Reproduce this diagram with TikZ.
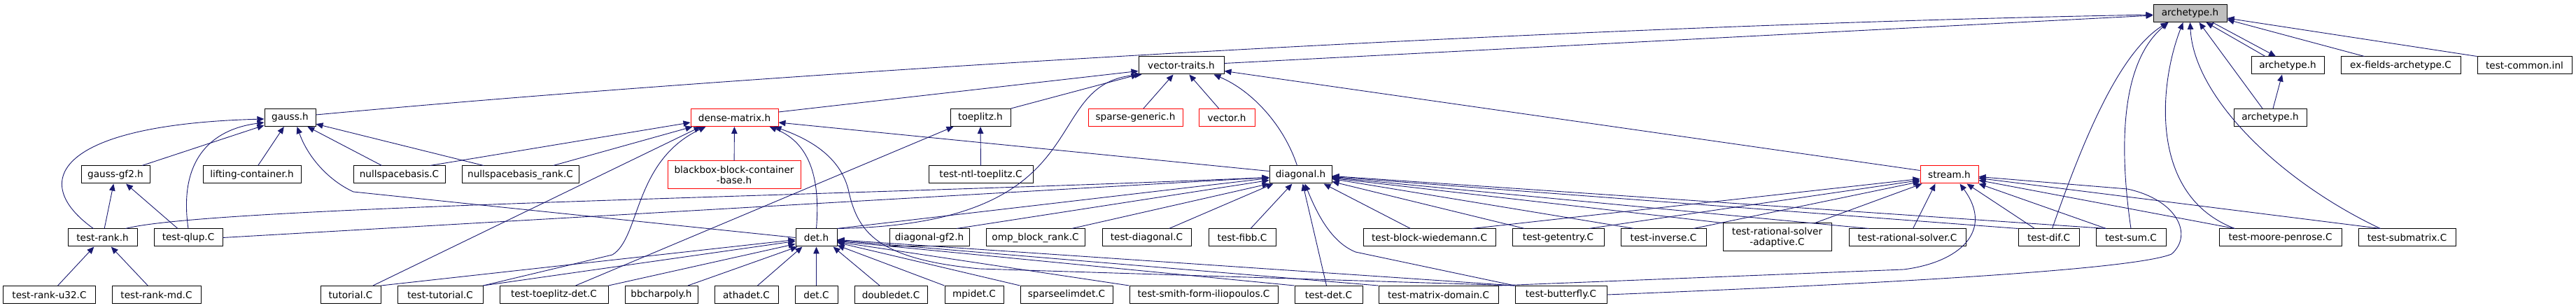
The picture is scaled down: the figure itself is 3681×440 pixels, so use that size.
\documentclass[tikz,border=0pt]{standalone}
\usepackage{fontspec}
\setmainfont{DejaVu Sans}
\usetikzlibrary{arrows.meta,calc}
\definecolor{edgec}{HTML}{191970}
\definecolor{rootfill}{HTML}{BFBFBF}
\tikzset{
  box/.style={draw=black, line width=1bp, fill=white, rectangle, inner sep=0pt,
    minimum height=25bp, font=\fontsize{13.65}{15}\selectfont, align=center},
  redbox/.style={box, draw=red},
  rootbox/.style={box, fill=rootfill},
  edge/.style={draw=edgec, line width=0.9bp, -{Triangle[length=10bp,width=8.5bp]}},
}
\begin{document}
\begin{tikzpicture}[x=1bp,y=-1bp]
\useasboundingbox (0,0) rectangle (3681,440);
% row 0
\node[rootbox, minimum width=105bp] (arch0) at (3129.5,19) {archetype.h};
% row 1
\node[box, minimum width=122bp] (vtraits) at (1688,93.5) {vector-traits.h};
\node[box, minimum width=104bp] (arch1) at (3269,93.5) {archetype.h};
\node[box, minimum width=171bp] (exfields) at (3430.5,93.5) {ex-fields-archetype.C};
\node[box, minimum width=135bp] (tcommon) at (3607.5,93.5) {test-common.inl};
% row 2
\node[box, minimum width=73bp] (gauss) at (414.5,168) {gauss.h};
\node[redbox, minimum width=125bp] (dense) at (1049.5,168) {dense-matrix.h};
\node[box, minimum width=86bp] (toeplitz) at (1401,168) {toeplitz.h};
\node[redbox, minimum width=135bp] (sparsegen) at (1622.5,168) {sparse-generic.h};
\node[redbox, minimum width=80bp] (vector) at (1753,168) {vector.h};
\node[box, minimum width=104bp] (arch2) at (3244,168) {archetype.h};
% row 3
\node[box, minimum width=98bp] (gaussgf2) at (165,249.5) {gauss-gf2.h};
\node[box, minimum width=140bp] (lifting) at (360,249.5) {lifting-container.h};
\node[box, minimum width=131bp] (nsb) at (570.5,249.5) {nullspacebasis.C};
\node[box, minimum width=167bp] (nsbr) at (743.5,249.5) {nullspacebasis\_rank.C};
\node[redbox, minimum width=190bp, minimum height=40bp] (bbcb) at (1049,250) {blackbox-block-container\\-base.h};
\node[box, minimum width=149bp] (ntltoep) at (1401.5,249.5) {test-ntl-toeplitz.C};
\node[box, minimum width=89bp] (diagonal) at (1858.5,249.5) {diagonal.h};
\node[redbox, minimum width=83bp] (stream) at (2785.5,249.5) {stream.h};
% row 4
\node[box, minimum width=99bp] (testrankh) at (146.5,339.5) {test-rank.h};
\node[box, minimum width=98bp] (qlup) at (269,339.5) {test-qlup.C};
\node[box, minimum width=59bp] (deth) at (1166.5,339.5) {det.h};
\node[box, minimum width=114bp] (diaggf2) at (1328,339.5) {diagonal-gf2.h};
\node[box, minimum width=141bp] (omp) at (1479.5,339.5) {omp\_block\_rank.C};
\node[box, minimum width=127bp] (testdiag) at (1638.5,339.5) {test-diagonal.C};
\node[box, minimum width=96bp] (fibb) at (1775,339.5) {test-fibb.C};
\node[box, minimum width=189bp] (bw) at (2042.5,339.5) {test-block-wiedemann.C};
\node[box, minimum width=131bp] (getentry) at (2226.5,339.5) {test-getentry.C};
\node[box, minimum width=122bp] (inverse) at (2377,339.5) {test-inverse.C};
\node[box, minimum width=155bp, minimum height=40bp] (rsa) at (2539.5,339) {test-rational-solver\\-adaptive.C};
\node[box, minimum width=167bp] (rs) at (2725.5,339.5) {test-rational-solver.C};
\node[box, minimum width=87bp] (dif) at (2927.5,339.5) {test-dif.C};
\node[box, minimum width=100bp] (sum) at (3045,339.5) {test-sum.C};
\node[box, minimum width=175bp] (mp) at (3258.5,339.5) {test-moore-penrose.C};
\node[box, minimum width=139bp] (submatrix) at (3439.5,339.5) {test-submatrix.C};
% row 5
\node[box, minimum width=131bp] (u32) at (70.5,421) {test-rank-u32.C};
\node[box, minimum width=127bp] (md) at (223.5,421) {test-rank-md.C};
\node[box, minimum width=86bp] (tutorial) at (501,421) {tutorial.C};
\node[box, minimum width=122bp] (ttut) at (629,421) {test-tutorial.C};
\node[box, minimum width=155bp] (ttdet) at (791.5,421) {test-toeplitz-det.C};
\node[box, minimum width=104bp] (bbcharpoly) at (945,421) {bbcharpoly.h};
\node[box, minimum width=91bp] (athadet) at (1066.5,421) {athadet.C};
\node[box, minimum width=61bp] (detC) at (1166.5,421) {det.C};
\node[box, minimum width=104bp] (doubledet) at (1273,421) {doubledet.C};
\node[box, minimum width=84bp] (mpidet) at (1392,421) {mpidet.C};
\node[box, minimum width=132bp] (sparseelim) at (1524,421) {sparseelimdet.C};
\node[box, minimum width=212bp] (smith) at (1720,421) {test-smith-form-iliopoulos.C};
\node[box, minimum width=97bp] (testdet) at (1898.5,421) {test-det.C};
\node[box, minimum width=171bp] (tmd) at (2055.5,421) {test-matrix-domain.C};
\node[box, minimum width=131bp] (butterfly) at (2230.5,421) {test-butterfly.C};

% ---- edges into archetype.h (root)
\draw[edge] ($(gauss.east)+(0,-4)$) .. controls (1200,95) and (2300,35) .. ($(arch0.west)+(0,2)$);
\draw[edge] ($(vtraits.east)+(0,-3)$) -- ($(arch0.west)+(0,3)$);
\draw[edge] ($(dif.north)+(5,0)$) .. controls (2980,190) and (3030,75) .. ($(arch0.south)+(-32,0)$);
\draw[edge] (sum.north) .. controls (3028,210) and (3030,90) .. ($(arch0.south)+(-31,0)$);
\draw[edge] ($(mp.north)+(-65,0)$) .. controls (3070,280) and (3085,120) .. ($(arch0.south)+(-10,0)$);
\draw[edge] ($(submatrix.north)+(-38,0)$) .. controls (3260,260) and (3135,140) .. (arch0.south);
\draw[edge] ($(arch2.north)+(-11,0)$) -- ($(arch0.south)+(13,0)$);
\draw[edge] ($(arch1.north)+(-32,0)$) -- ($(arch0.south)+(23,0)$);
\draw[edge] ($(arch0.south)+(32,0)$) -- ($(arch1.north)+(-17,0)$);
\draw[edge] ($(exfields.north)+(-52,0)$) -- ($(arch0.east)+(0,9)$);
\draw[edge] ($(tcommon.north)+(-68,0)$) -- ($(arch0.east)+(0,7)$);
\draw[edge] ($(arch2.north)+(4,0)$) -- ($(arch1.south)+(-8,0)$);

% ---- edges into vector-traits.h
\draw[edge] ($(dense.east)+(0,-8)$) -- ($(vtraits.west)+(0,8)$);
\draw[edge] (toeplitz.north east) -- (vtraits.south west);
\draw[edge] (deth.north east) .. controls (1580,320) and (1480,120) .. ($(vtraits.south west)+(5,0)$);
\draw[edge] (sparsegen) -- (vtraits);
\draw[edge] (vector) -- (vtraits);
\draw[edge] ($(diagonal.north)+(-5,0)$) .. controls (1835,180) and (1790,130) .. ($(vtraits.south east)+(-15,0)$);
\draw[edge] ($(stream.west)+(0,-6)$) -- ($(vtraits.east)+(0,8)$);

% ---- edges into gauss.h
\draw[edge] ($(testrankh.north)+(-13,0)$) .. controls (40,260) and (80,178) .. ($(gauss.west)+(0,2)$);
\draw[edge] ($(gaussgf2.north)+(38,0)$) -- ($(gauss.west)+(0,11)$);
\draw[edge] (qlup.north) .. controls (255,230) and (300,185) .. ($(gauss.west)+(0,7)$);
\draw[edge] (lifting) -- (gauss);
\draw[edge] (nsb) -- (gauss);
\draw[edge] (nsbr) -- (gauss);
\draw[edge] (deth.west) -- (505,274) .. controls (470,258) and (440,225) .. ($(gauss.south)+(10,0)$);

% ---- edges into dense-matrix.h
\draw[edge] ($(nsb.north)+(44,0)$) -- ($(dense.west)+(0,7)$);
\draw[edge] ($(nsbr.north)+(47,0)$) -- ($(dense.south west)+(3,0)$);
\draw[edge] ($(tutorial.north)+(32,0)$) -- ($(dense.south west)+(15,0)$);
\draw[edge] (ttut.north east) -- (875,364) .. controls (915,340) and (905,230) .. ($(dense.south west)+(22,0)$);
\draw[edge] (bbcb) -- (dense);
\draw[edge] (deth.north) .. controls (1172,260) and (1160,205) .. ($(dense.south)+(50,0)$);
\draw[edge] ($(diagonal.west)+(0,-5)$) -- ($(dense.east)+(0,7)$);
\draw[edge] (butterfly.north west) -- (1400,384) .. controls (1250,370) and (1225,330) .. (1212,270) .. controls (1200,225) and (1160,200) .. ($(dense.south east)+(-6,0)$);

% ---- edges into toeplitz.h
\draw[edge] (ntltoep.north) -- (toeplitz.south);
\draw[edge] ($(ttdet.north)+(31,0)$) -- ($(toeplitz.south west)+(5,0)$);

% ---- edges into diagonal.h
\draw[edge] ($(testrankh.north)+(33,0)$) .. controls (300,295) and (1200,280) .. ($(diagonal.west)+(0,4)$);
\draw[edge] (qlup.east) -- ($(diagonal.west)+(0,4)$);
\draw[edge] (deth.north east) -- ($(diagonal.west)+(0,5)$);
\draw[edge] ($(diaggf2.north)+(39,0)$) -- ($(diagonal.west)+(0,8)$);
\draw[edge] ($(omp.north)+(52,0)$) -- (diagonal.south west);
\draw[edge] ($(testdiag.north)+(32,0)$) -- ($(diagonal.south west)+(6,0)$);
\draw[edge] (fibb) -- (diagonal);
\draw[edge] (testdet) -- (diagonal);
\draw[edge] (butterfly.north west) -- (1937,360) .. controls (1900,345) and (1880,300) .. ($(diagonal.south)+(6,0)$);
\draw[edge] ($(bw.north)+(-27,0)$) -- ($(diagonal.south east)+(-12,0)$);
\draw[edge] ($(getentry.north)+(-48,0)$) -- ($(diagonal.east)+(0,10)$);
\draw[edge] ($(inverse.north)+(-42,0)$) -- ($(diagonal.east)+(0,6)$);
\draw[edge] (rsa.north west) -- ($(diagonal.east)+(0,5)$);
\draw[edge] ($(rs.north)+(-55,0)$) -- ($(diagonal.east)+(0,4)$);
\draw[edge] (dif.north west) -- ($(diagonal.east)+(0,3)$);
\draw[edge] ($(sum.north west)+(15,0)$) -- ($(diagonal.east)+(0,2)$);

% ---- edges into stream.h
\draw[edge] ($(bw.north)+(61,0)$) -- ($(stream.west)+(0,6)$);
\draw[edge] ($(getentry.north)+(44,0)$) -- ($(stream.west)+(0,8)$);
\draw[edge] ($(inverse.north)+(43,0)$) -- ($(stream.west)+(0,10)$);
\draw[edge] ($(rsa.north)+(54,0)$) -- ($(stream.south west)+(3,0)$);
\draw[edge] ($(rs.north)+(8,0)$) -- ($(stream.south west)+(22,0)$);
\draw[edge] ($(dif.north)+(-20,0)$) -- ($(stream.south)+(25,0)$);
\draw[edge] ($(sum.north west)+(15,0)$) -- (stream.south east);
\draw[edge] ($(mp.north)+(-65,0)$) -- ($(stream.east)+(0,8)$);
\draw[edge] ($(submatrix.north)+(-38,0)$) -- ($(stream.east)+(0,5)$);
\draw[edge] (butterfly.east) .. controls (2700,405) and (3050,385) .. (3103,363) .. controls (3135,335) and (3110,285) .. (3040,270) -- ($(stream.east)+(0,3)$);
\draw[edge] (tmd.north east) -- (2720,385) .. controls (2800,375) and (2850,330) .. ($(stream.south)+(15,0)$);

% ---- edges into det.h
\draw[edge] (tutorial.north east) -- ($(deth.west)+(0,3)$);
\draw[edge] (ttut.north east) -- ($(deth.west)+(0,5)$);
\draw[edge] (ttdet.north east) -- ($(deth.west)+(0,9)$);
\draw[edge] ($(bbcharpoly.north)+(38,0)$) -- ($(deth.south west)+(3,0)$);
\draw[edge] ($(athadet.north)+(16,0)$) -- ($(deth.south)+(-20,0)$);
\draw[edge] (detC) -- (deth);
\draw[edge] ($(doubledet.north)+(-16,0)$) -- ($(deth.south east)+(-6,0)$);
\draw[edge] (mpidet.north west) -- ($(deth.south east)+(0,-2)$);
\draw[edge] (sparseelim.north west) -- ($(deth.east)+(0,7)$);
\draw[edge] (smith.north west) -- ($(deth.east)+(0,6)$);
\draw[edge] (testdet.north west) -- ($(deth.east)+(0,5)$);
\draw[edge] (tmd.north west) -- ($(deth.east)+(0,4)$);
\draw[edge] (butterfly.north west) -- ($(deth.east)+(0,3)$);

% ---- test-rank.h, gauss-gf2.h
\draw[edge] (u32) -- (testrankh);
\draw[edge] (md) -- (testrankh);
\draw[edge] (testrankh) -- (gaussgf2);
\draw[edge] (qlup) -- (gaussgf2);
\end{tikzpicture}
\end{document}
